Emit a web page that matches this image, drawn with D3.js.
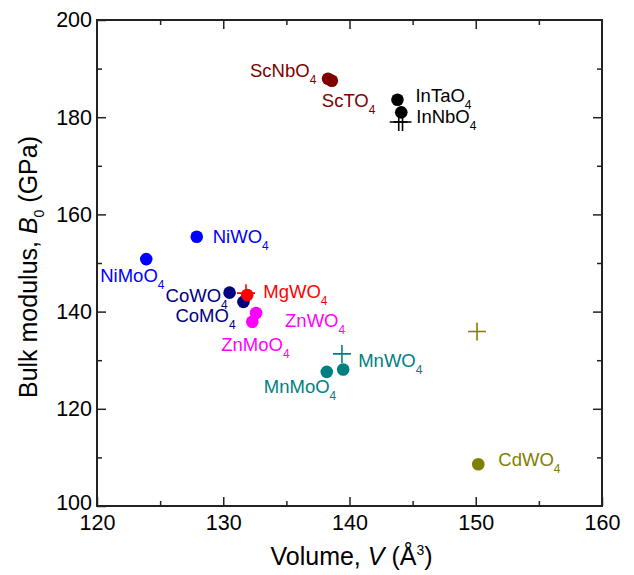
<!DOCTYPE html>
<html>
<head>
<meta charset="utf-8">
<script src="https://cdn.jsdelivr.net/npm/d3@7"></script>
<style>
  html, body { margin: 0; padding: 0; background: #fff; }
  svg { display: block; font-family: "Liberation Sans", Arial, sans-serif; }
</style>
</head>
<body>
<svg id="chart" width="634" height="575"></svg>
<script>
// ---- data ----
const compounds = ["ScNbO4","ScTaO4","InTaO4","InNbO4","NiWO4","NiMoO4","CoWO4","CoMoO4","MgWO4","ZnWO4","ZnMoO4","MnWO4","MnMoO4","CdWO4"];
const labelBase = ["ScNbO","ScTO","InTaO","InNbO","NiWO","NiMoO","CoWO","CoMO","MgWO","ZnWO","ZnMoO","MnWO","MnMoO","CdWO"];
const labelSub  = ["4","4","4","4","4","4","4","4","4","4","4","4","4","4"];
const volume    = [138.3, 138.6, 143.8, 144.1, 127.9, 123.9, 130.5, 131.6, 131.9, 132.6, 132.3, 139.5, 138.2, 150.2];
const bulk      = [187.9, 187.5, 183.6, 181.0, 155.4, 150.8, 143.9, 142.0, 143.4, 139.7, 137.9, 128.1, 127.6, 108.6];
const colors    = ["#800000","#800000","#000000","#000000","#0000ff","#0000ff","#000080","#000080","#ff0000","#ff00ff","#ff00ff","#008080","#008080","#808000"];

// theoretical values (crosses)
const crossVolume = [143.9, 144.2, 131.8, 139.4, 150.1];
const crossBulk   = [179.0, 179.0, 143.8, 131.3, 135.9];
const crossColors = ["#000000","#000000","#ff0000","#008080","#808000"];

const xTicks = [120, 130, 140, 150, 160];
const yTicks = [100, 120, 140, 160, 180, 200];

// ---- layout (label offsets in px relative to point) ----
const labelDx = [-78, -10, 18, 15, 16, -46, -64, -68, 16, 29, -31, 15, -63, 20];
const labelDy = [-2, 26, 2, 11, 6, 23, 9, 20, 3, 14, 29, -2, 21, 2];

const svg = d3.select("#chart");
const L = 97, R = 602, T = 20, B = 506;

const x = d3.scaleLinear().domain([120, 160]).range([L, R]);
const y = d3.scaleLinear().domain([100, 200]).range([B, T]);

const axisFont = 21.5;

// axes with inward ticks
function styleAxis(g) {
  g.select(".domain").remove();
  g.selectAll(".tick line").attr("stroke", "#222").attr("stroke-width", 1.5);
  g.selectAll(".tick text").attr("fill", "#000").attr("font-size", axisFont).attr("font-family", "Liberation Sans, Arial, sans-serif");
}

svg.append("g").attr("transform", `translate(0,${B})`)
  .call(d3.axisBottom(x).tickValues(d3.range(120, 161, 5)).tickSize(-6).tickPadding(9)
        .tickFormat(d => xTicks.includes(d) ? d : ""))
  .call(styleAxis)
  .call(g => g.selectAll(".tick line").attr("y2", d => xTicks.includes(d) ? -9 : -5));

svg.append("g").attr("transform", `translate(0,${T})`)
  .call(d3.axisTop(x).tickValues(d3.range(125, 160, 5)).tickSize(-6).tickFormat(""))
  .call(styleAxis)
  .call(g => g.selectAll(".tick line").attr("y2", d => xTicks.includes(d) ? 9 : 5));

svg.append("g").attr("transform", `translate(${L},0)`)
  .call(d3.axisLeft(y).tickValues(d3.range(100, 201, 10)).tickSize(-6).tickPadding(6)
        .tickFormat(d => yTicks.includes(d) ? d : ""))
  .call(styleAxis)
  .call(g => g.selectAll(".tick line").attr("x2", d => yTicks.includes(d) ? 9 : 5))
  .call(g => g.selectAll(".tick text").attr("x", -5))
  .call(g => g.selectAll(".tick text").filter(d => d === 100).attr("y", -3));

svg.append("g").attr("transform", `translate(${R},0)`)
  .call(d3.axisRight(y).tickValues(d3.range(110, 200, 10)).tickSize(-6).tickFormat(""))
  .call(styleAxis)
  .call(g => g.selectAll(".tick line").attr("x2", d => yTicks.includes(d) ? -9 : -5));

// frame
svg.append("rect").attr("x", L).attr("y", T).attr("width", R - L).attr("height", B - T)
  .attr("fill", "none").attr("stroke", "#222").attr("stroke-width", 2);

// axis titles
const xt = svg.append("text").attr("x", (L + R) / 2 + 2).attr("y", 565)
  .attr("text-anchor", "middle").attr("font-size", 25).attr("fill", "#000");
xt.append("tspan").text("Volume, ");
xt.append("tspan").attr("font-style", "italic").text("V");
xt.append("tspan").text(" (Å");
xt.append("tspan").attr("font-size", 14).attr("dy", -10).text("3");
xt.append("tspan").attr("dy", 10).text(")");

const yt = svg.append("text").attr("transform", `translate(37,${(T + B) / 2 + 4}) rotate(-90)`)
  .attr("text-anchor", "middle").attr("font-size", 25).attr("fill", "#000");
yt.append("tspan").text("Bulk modulus, ");
yt.append("tspan").attr("font-style", "italic").text("B");
yt.append("tspan").attr("font-size", 14).attr("dy", 7).text("0");
yt.append("tspan").attr("dy", -7).text(" (GPa)");

// crosses
const cs = 9;
const crosses = svg.append("g");
crossVolume.forEach((v, i) => {
  const cx = x(v), cy = y(crossBulk[i]);
  crosses.append("path")
    .attr("d", `M${cx - cs},${cy}H${cx + cs}M${cx},${cy - cs}V${cy + cs}`)
    .attr("stroke", crossColors[i]).attr("stroke-width", 1.6).attr("fill", "none");
});

// points
svg.append("g").selectAll("circle").data(compounds).join("circle")
  .attr("cx", (d, i) => x(volume[i]))
  .attr("cy", (d, i) => y(bulk[i]))
  .attr("r", 6.3)
  .attr("fill", (d, i) => colors[i]);

// labels
const lab = svg.append("g").selectAll("text").data(compounds).join("text")
  .attr("x", (d, i) => x(volume[i]) + labelDx[i])
  .attr("y", (d, i) => y(bulk[i]) + labelDy[i])
  .attr("font-size", 18.5)
  .attr("fill", (d, i) => colors[i]);
lab.append("tspan").text((d, i) => labelBase[i]);
lab.append("tspan").attr("font-size", 12).attr("dy", 7).text((d, i) => labelSub[i]);
</script>
</body>
</html>
